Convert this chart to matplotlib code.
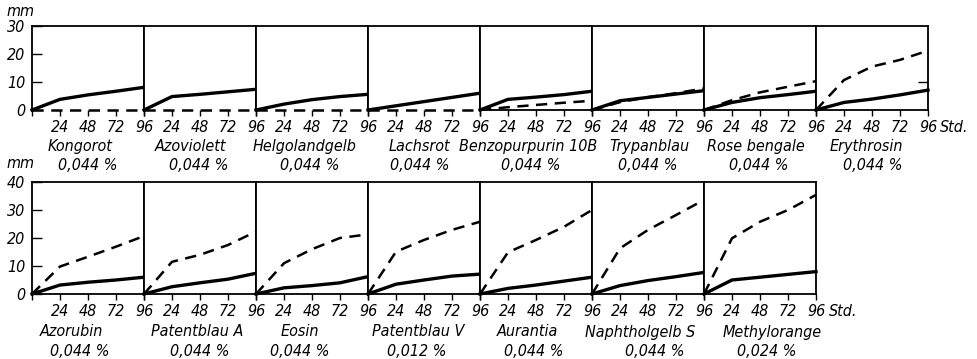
import matplotlib
matplotlib.use("Agg")
import matplotlib.pyplot as plt
from matplotlib import font_manager
from matplotlib.font_manager import FontProperties

# pick a narrow italic font if one is installed
_paths = [f.fname for f in font_manager.fontManager.ttflist]
_pref = ["LiberationSansNarrow-Italic", "DejaVuSansCondensed-Oblique",
         "RobotoCondensed-Italic", "OpenSans_Condensed-Italic",
         "OpenSansCondensed-Italic", "NotoSans-CondensedItalic"]
FONT_PATH = None
for key in _pref:
    for p in _paths:
        if key.lower() in p.lower().replace(" ", ""):
            FONT_PATH = p
            break
    if FONT_PATH:
        break
if FONT_PATH is None:
    for p in _paths:
        pl = p.lower()
        if ("narrow" in pl or "condensed" in pl) and ("italic" in pl or "oblique" in pl):
            FONT_PATH = p
            break

FS = 11.5


def fp(size=FS):
    if FONT_PATH:
        return FontProperties(fname=FONT_PATH, size=size)
    return FontProperties(family="DejaVu Sans", style="italic", size=size * 0.85)


# ---- data ----
hours = [0, 24, 48, 72, 96]
x_tick_labels = ["", "24", "48", "72", "96"]

top_names = ["Kongorot", "Azoviolett", "Helgolandgelb", "Lachsrot",
             "Benzopurpurin 10B", "Trypanblau", "Rose bengale", "Erythrosin"]
top_conc = ["0,044 %"] * 8
top_solid = [
    [0, 3.8, 5.4, 6.7, 8.1],
    [0, 4.8, 5.6, 6.5, 7.4],
    [0, 2.1, 3.7, 4.8, 5.6],
    [0, 1.5, 3.0, 4.5, 6.0],
    [0, 3.8, 4.6, 5.5, 6.7],
    [0, 3.3, 4.5, 5.7, 6.9],
    [0, 2.7, 4.4, 5.5, 6.7],
    [0, 2.7, 3.9, 5.4, 7.1],
]
top_dashed = [
    [0, 0, 0, 0, 0],
    [0, 0, 0, 0, 0],
    [0, 0, 0, 0, 0],
    [0, 0, 0, 0, 0],
    [0, 1.0, 1.8, 2.6, 3.3],
    [0, 2.8, 4.6, 6.0, 7.7],
    [0, 3.5, 6.3, 8.3, 10.3],
    [0, 10.7, 15.5, 17.9, 21.2],
]
top_yticks = [0, 10, 20, 30]

bot_names = ["Azorubin", "Patentblau A", "Eosin", "Patentblau V",
             "Aurantia", "Naphtholgelb S", "Methylorange"]
bot_conc = ["0,044 %", "0,044 %", "0,044 %", "0,012 %", "0,044 %", "0,044 %", "0,024 %"]
bot_solid = [
    [0, 3.2, 4.2, 5.0, 6.0],
    [0, 2.6, 4.0, 5.3, 7.4],
    [0, 2.2, 3.0, 4.0, 6.2],
    [0, 3.5, 5.0, 6.4, 7.1],
    [0, 2.0, 3.2, 4.6, 6.0],
    [0, 3.0, 4.8, 6.2, 7.7],
    [0, 5.0, 6.0, 7.0, 8.0],
]
bot_dashed = [
    [0, 9.8, 13.3, 16.9, 20.7],
    [0, 11.5, 14.0, 17.5, 22.3],
    [0, 11.0, 16.0, 20.0, 21.3],
    [0, 15.1, 19.3, 22.9, 25.8],
    [0, 14.9, 19.3, 24.0, 30.0],
    [0, 16.3, 22.9, 28.2, 33.6],
    [0, 19.9, 25.8, 30.0, 35.4],
]
bot_yticks = [0, 10, 20, 30, 40]

# ---- layout (pixels) ----
W, H = 977, 359
fig = plt.figure(figsize=(W / 100, H / 100), dpi=100)
PX0, PW = 32, 112

top_name_off = [48, 47, 49, 51, 48, 57, 52, 50]
top_conc_off = [56, 55, 54, 52, 51, 56, 55, 57]
bot_name_off = [39, 53, 44, 50, 47, 48, 68]
bot_conc_off = [48, 56, 44, 49, 54, 63, 63]


def fx(x):
    return x / W


def fy(y):
    return 1 - y / H


def draw_row(ytop, ybot, solid, dashed, row_names, conc, yticks, name_off, conc_off,
             name_y, conc_y, std_xy, right_tick=None):
    n = len(solid)
    for i in range(n):
        left = PX0 + PW * i
        ax = fig.add_axes([fx(left), fy(ybot), PW / W, (ybot - ytop) / H])
        ax.set_xlim(0, 96)
        ax.set_ylim(0, yticks[-1])
        ax.plot(hours, dashed[i], color="black", lw=1.8, dashes=(4.5, 3),
                clip_on=False, zorder=3)
        ax.plot(hours, solid[i], color="black", lw=2.4, clip_on=False, zorder=4,
                solid_joinstyle="round")
        for s in ax.spines.values():
            s.set_linewidth(1.3)
        if max(dashed[i]) == 0:
            ax.spines["bottom"].set_visible(False)
        ax.set_xticks(hours)
        ax.set_xticklabels(x_tick_labels, fontproperties=fp())
        ax.tick_params(axis="x", direction="out", length=4, width=1.0, pad=3)
        if i == 0:
            ax.set_yticks(yticks)
            ax.set_yticklabels([str(v) for v in yticks], fontproperties=fp())
            ax.tick_params(axis="y", direction="in", length=7, width=1.0, pad=5)
        elif i == n - 1 and right_tick is not None:
            ax.yaxis.tick_right()
            ax.set_yticks([right_tick])
            ax.set_yticklabels([""])
            ax.tick_params(axis="y", direction="in", length=7, width=1.0)
        else:
            ax.set_yticks([])
        fig.text(fx(left + name_off[i]), fy(name_y), row_names[i], ha="center",
                 va="center", fontproperties=fp())
        fig.text(fx(left + conc_off[i]), fy(conc_y), conc[i], ha="center",
                 va="center", fontproperties=fp())
    fig.text(fx(std_xy[0]), fy(std_xy[1]), "Std.", ha="left", va="center",
             fontproperties=fp())


draw_row(26, 110, top_solid, top_dashed, top_names, top_conc, top_yticks,
         top_name_off, top_conc_off, 146, 166, (940, 127), right_tick=10)
draw_row(182, 294, bot_solid, bot_dashed, bot_names, bot_conc, bot_yticks,
         bot_name_off, bot_conc_off, 332, 352, (829, 311))

fig.text(fx(6), fy(12), "mm", ha="left", va="center", fontproperties=fp())
fig.text(fx(6), fy(164), "mm", ha="left", va="center", fontproperties=fp())

fig.savefig("out.png", dpi=100)
